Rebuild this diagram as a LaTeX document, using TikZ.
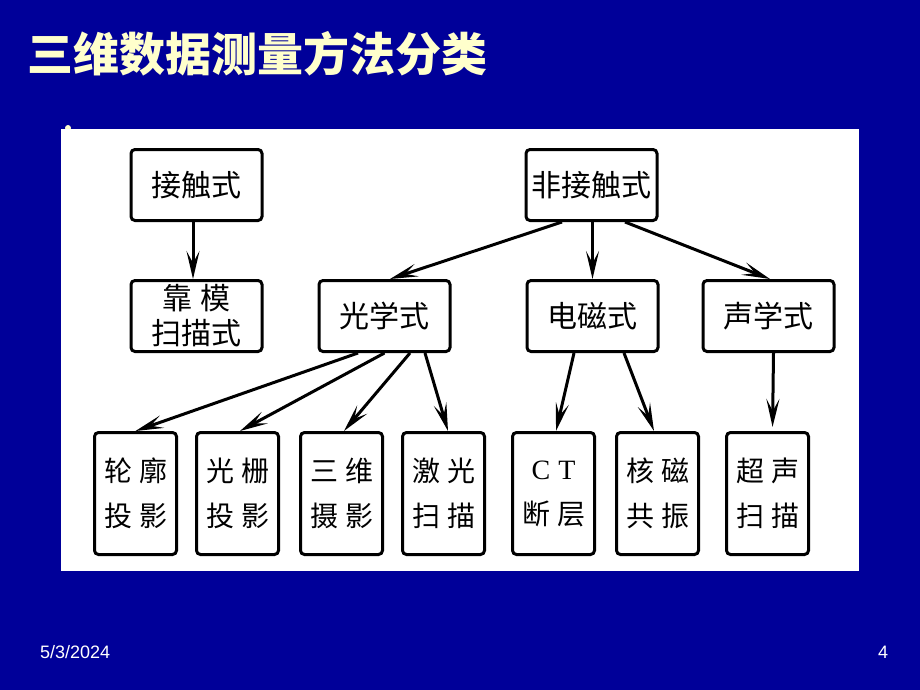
\documentclass[tikz,border=0pt]{standalone}
\usepackage{fontspec}
\newfontfamily\cjk{Noto Sans CJK SC}
\newfontfamily\footfont{Liberation Sans}
\newfontfamily\latinserif{Liberation Serif}
\usetikzlibrary{positioning,arrows.meta}
\definecolor{slideblue}{RGB}{0,0,153}
\definecolor{titlecream}{RGB}{255,255,204}

\begin{document}
\begin{tikzpicture}[
        x=1pt, y=-1pt,
        method/.style={
                rectangle,
                rounded corners=4pt,
                draw=black,
                line width=3pt,
                fill=white,
                text centered,
                align=center,
                minimum width=131pt,
                minimum height=71pt,
                font=\cjk\fontsize{30pt}{35pt}\selectfont,
            },
        leaf/.style={
                rectangle,
                rounded corners=4pt,
                draw=black,
                line width=3pt,
                fill=white,
                text centered,
                align=center,
                minimum width=82pt,
                minimum height=122pt,
                font=\cjk\fontsize{28pt}{45pt}\selectfont,
            },
        link/.style={
                draw=black,
                line width=3pt,
                -{Stealth[length=28pt,width=13pt,inset=12pt]},
            }
    ]
    % slide
    \fill[slideblue] (0,0) rectangle (920,690);
    \fill[titlecream] (68,128) circle (3pt);
    \fill[white] (61,129) rectangle (859,571);
    \node[anchor=west,inner sep=0pt,text=titlecream,font=\cjk\bfseries\fontsize{46pt}{46pt}\selectfont] (title) at (27,54) {三维数据测量方法分类};

    \node[method] (contact) at (196.5,185) {接触式};
    \node[method] (noncontact) [right=261pt of contact] {非接触式};
    \node[method] (template) [below=57pt of contact] {靠\hspace{8pt}模\\扫描式};
    \node[method] (optical) [right=54pt of template] {光学式};
    \node[method] (em) [right=74pt of optical] {电磁式};
    \node[method] (acoustic) [right=42pt of em] {声学式};

    \node[leaf] (contour) [below=78pt of template, xshift=-61pt] {轮\hspace{7pt}廓\\投\hspace{7pt}影};
    \node[leaf] (grating) [right=17pt of contour] {光\hspace{7pt}栅\\投\hspace{7pt}影};
    \node[leaf] (photo) [right=19pt of grating] {三\hspace{7pt}维\\摄\hspace{7pt}影};
    \node[leaf] (laser) [right=17pt of photo] {激\hspace{7pt}光\\扫\hspace{7pt}描};
    \node[leaf] (ct) [right=25pt of laser] {{\latinserif C\hspace{8pt}T}\\断\hspace{7pt}层};
    \node[leaf] (mri) [right=19pt of ct] {核\hspace{7pt}磁\\共\hspace{7pt}振};
    \node[leaf] (ultra) [right=25pt of mri] {超\hspace{7pt}声\\扫\hspace{7pt}描};

    \draw[link] ([xshift=-3.5pt]contact.south) -- ([xshift=-3.5pt]template.north);
    \draw[link] ([xshift=-29.5pt]noncontact.south) -- ([xshift=5.5pt]optical.north);
    \draw[link] ([xshift=1pt]noncontact.south) -- (em.north);
    \draw[link] ([xshift=33.5pt]noncontact.south) -- ([xshift=1.5pt]acoustic.north);
    \draw[link] ([xshift=-26.5pt]optical.south) -- (contour.north);
    \draw[link] (optical.south) -- ([xshift=2.5pt]grating.north);
    \draw[link] ([xshift=25.5pt]optical.south) -- ([xshift=2.5pt]photo.north);
    \draw[link] ([xshift=40.5pt]optical.south) -- ([xshift=4.5pt]laser.north);
    \draw[link] ([xshift=-18.5pt]em.south) -- ([xshift=2.5pt]ct.north);
    \draw[link] ([xshift=31.5pt]em.south) -- ([xshift=-3.5pt]mri.north);
    \draw[link,shorten >=4pt] ([xshift=5pt]acoustic.south) -- ([xshift=5pt]ultra.north);

    \node[anchor=base west,inner sep=0pt,text=white,font=\footfont\fontsize{18pt}{18pt}\selectfont] (date) at (40,658) {5/3/2024};
    \node[anchor=base west,inner sep=0pt,text=white,font=\footfont\fontsize{18pt}{18pt}\selectfont] (page) at (878,658) {4};
\end{tikzpicture}
\end{document}
